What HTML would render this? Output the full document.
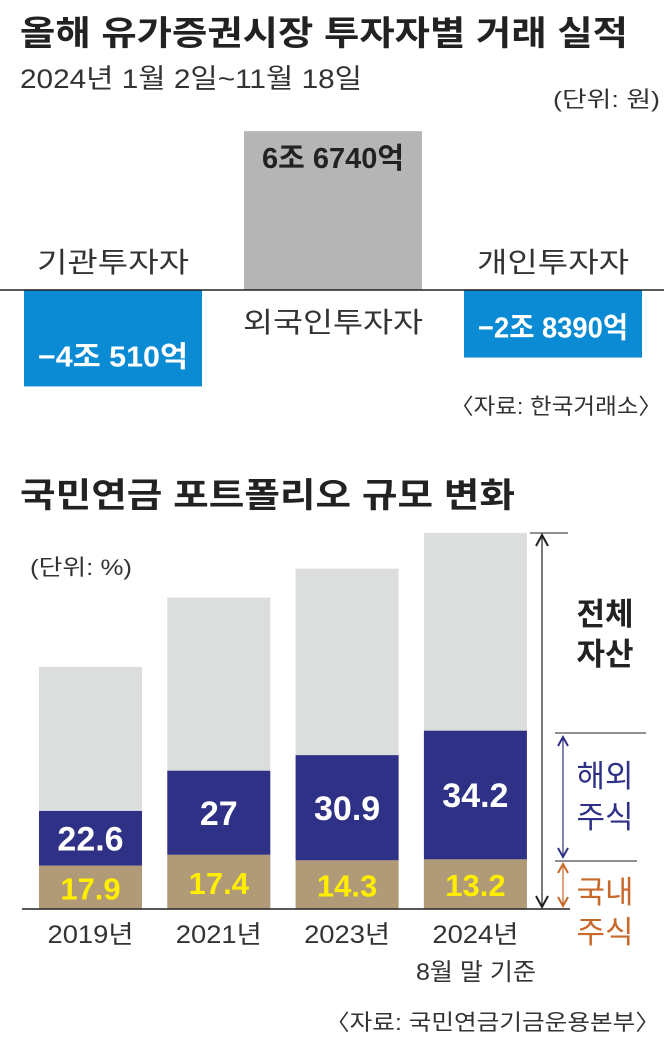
<!DOCTYPE html>
<html><head><meta charset="utf-8"><style>
html,body{margin:0;padding:0;background:#fff;}
svg{display:block;font-family:"Liberation Sans","Noto Sans CJK KR",sans-serif;}
</style></head><body>
<svg id="chart" width="664" height="1039" viewBox="0 0 664 1039" xmlns="http://www.w3.org/2000/svg">
<text x="20" y="45" font-size="34" font-weight="bold" fill="#222" textLength="608" lengthAdjust="spacingAndGlyphs">올해 유가증권시장 투자자별 거래 실적</text>
<text x="20" y="88" font-size="27" fill="#333" textLength="342" lengthAdjust="spacingAndGlyphs">2024년 1월 2일~11월 18일</text>
<text x="553" y="107" font-size="22" fill="#333" textLength="107" lengthAdjust="spacingAndGlyphs">(단위: 원)</text>
<g id="topgroup"></g>
<line x1="0" y1="290" x2="664" y2="290" stroke="#222" stroke-width="1.5"/>
<text x="450" y="414" font-size="22" fill="#333" textLength="212" lengthAdjust="spacingAndGlyphs">〈자료: 한국거래소〉</text>

<text x="20" y="507" font-size="34" font-weight="bold" fill="#222" textLength="495" lengthAdjust="spacingAndGlyphs">국민연금 포트폴리오 규모 변화</text>
<text x="30" y="575" font-size="22" fill="#333" textLength="102" lengthAdjust="spacingAndGlyphs">(단위: %)</text>
<g id="bottomgroup"></g>
<line x1="22" y1="909" x2="570" y2="909" stroke="#222" stroke-width="1.5"/>
<text x="476" y="980" font-size="24" fill="#333" text-anchor="middle" textLength="120" lengthAdjust="spacingAndGlyphs">8월 말 기준</text>

<g>
<line x1="530" y1="533" x2="568" y2="533" stroke="#222" stroke-width="1"/>
<line x1="542" y1="536" x2="542" y2="906" stroke="#222" stroke-width="1.2"/>
<path d="M536 546 L542 535 L548 546 M536 896 L542 907 L548 896" fill="none" stroke="#222" stroke-width="2"/>
<text x="605" y="625" font-size="31" font-weight="bold" fill="#222" text-anchor="middle">전체</text>
<text x="605" y="665" font-size="31" font-weight="bold" fill="#222" text-anchor="middle">자산</text>
</g>
<g>
<line x1="555" y1="733" x2="646" y2="733" stroke="#222" stroke-width="1"/>
<line x1="555" y1="861" x2="637" y2="861" stroke="#222" stroke-width="1"/>
<line x1="563" y1="738" x2="563" y2="856" stroke="#2e3186" stroke-width="1.2"/>
<path d="M558 746 L563 737 L568 746 M558 848 L563 857 L568 848" fill="none" stroke="#2e3186" stroke-width="2"/>
<text x="605" y="787" font-size="31" fill="#2e3186" text-anchor="middle">해외</text>
<text x="605" y="828" font-size="31" fill="#2e3186" text-anchor="middle">주식</text>
</g>
<g>
<line x1="563" y1="865" x2="563" y2="905" stroke="#c8682a" stroke-width="1.2"/>
<path d="M558 873 L563 864 L568 873 M558 897 L563 906 L568 897" fill="none" stroke="#c8682a" stroke-width="2"/>
<text x="605" y="903" font-size="31" fill="#c8682a" text-anchor="middle">국내</text>
<text x="605" y="943" font-size="31" fill="#c8682a" text-anchor="middle">주식</text>
</g>
<text x="325" y="1030" font-size="22" fill="#333" textLength="335" lengthAdjust="spacingAndGlyphs">〈자료: 국민연금기금운용본부〉</text>
</svg>
<script>
const NS='http://www.w3.org/2000/svg';
// top chart data (trillion won)
const investors=['기관투자자','외국인투자자','개인투자자'];
const netValues=[-4.051,6.674,-2.839];
const netLabels=['−4조 510억','6조 6740억','−2조 8390억'];
// bottom chart data
const years=['2019년','2021년','2023년','2024년'];
const totalAssets=[737,948,1036,1145];
const foreignPct=[22.6,27,30.9,34.2];
const domesticPct=[17.9,17.4,14.3,13.2];
const foreignLabels=['22.6','27','30.9','34.2'];
const domesticLabels=['17.9','17.4','14.3','13.2'];

function mk(tag,attrs,parent,text){const e=document.createElementNS(NS,tag);for(const k in attrs)e.setAttribute(k,attrs[k]);if(text!=null)e.textContent=text;parent.appendChild(e);return e;}

const topG=document.getElementById('topgroup');
const zeroY=290, tScale=23.8;
const yT=v=>zeroY-v*tScale;
const xT=i=>24+i*220;
const bw=178;
netValues.forEach((v,i)=>{
  const y0=Math.min(yT(v),zeroY), h=Math.abs(yT(v)-zeroY);
  const r=mk('rect',{x:xT(i),y:y0,width:bw,height:h,fill:v>=0?'#b5b5b5':'#0a8bd3'},topG);
  
  
  const cx=xT(i)+bw/2;
  const vl=mk('text',{x:cx,y:v>=0?y0+37:y0+h-20,'font-size':29,'font-weight':'bold',fill:v>=0?'#222':'#fff','text-anchor':'middle',textLength:v>=0?142:150,lengthAdjust:'spacingAndGlyphs'},topG,netLabels[i]);
  
  
  const nl=mk('text',{x:cx,y:v>=0?zeroY+42:zeroY-18,'font-size':28,fill:'#333','text-anchor':'middle',textLength:v>=0?180:152,lengthAdjust:'spacingAndGlyphs'},topG,investors[i]);
  
  
});

const botG=document.getElementById('bottomgroup');
const base=909, bScale=0.3285;
const xB=i=>39+i*128.3;
const bbw=103;
years.forEach((yr,i)=>{
  const tot=totalAssets[i]*bScale;
  const dom=tot*domesticPct[i]/100, fr=tot*foreignPct[i]/100;
  const x=xB(i), cx=x+bbw/2;
  const g=mk('rect',{x:x,y:base-tot,width:bbw,height:tot,fill:'#dcdedd'},botG);
  
  
  const f=mk('rect',{x:x,y:base-dom-fr,width:bbw,height:fr,fill:'#2e3186'},botG);
  
  
  const d=mk('rect',{x:x,y:base-dom,width:bbw,height:dom,fill:'#b09a78'},botG);
  
  
  const fl=mk('text',{x:cx,y:base-dom-fr/2+12,'font-size':34,'font-weight':'bold',fill:'#fff','text-anchor':'middle'},botG,foreignLabels[i]);
  
  
  const dl=mk('text',{x:cx,y:base-dom/2+12,'font-size':31,'font-weight':'bold',fill:'#ffee00','text-anchor':'middle'},botG,domesticLabels[i]);
  
  
  const xl=mk('text',{x:cx,y:943,'font-size':25,fill:'#333','text-anchor':'middle',textLength:86,lengthAdjust:'spacingAndGlyphs'},botG,yr);
  
  
});
</script>
</body></html>
